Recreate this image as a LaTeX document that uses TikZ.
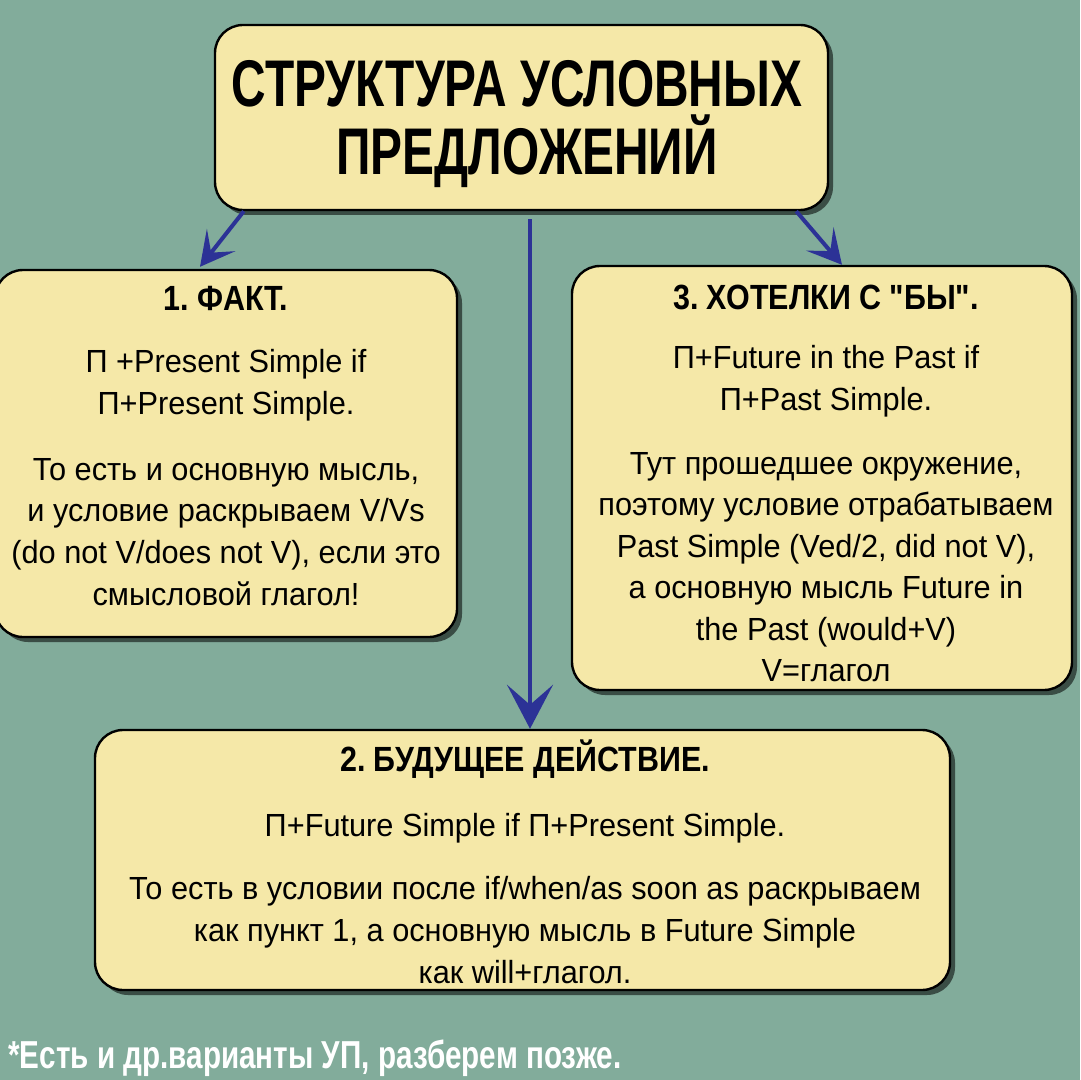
\documentclass[tikz,border=0pt]{standalone}
\usepackage{fontspec}
\setmainfont{Liberation Sans}
\newfontfamily\bodyfont[FakeStretch=0.96]{Liberation Sans}
\newfontfamily\headfont[FakeStretch=0.87]{Liberation Sans}
\newfontfamily\titlefont[FakeStretch=0.725]{Liberation Sans}
\newfontfamily\notefont[FakeStretch=0.76]{Liberation Sans}
\usetikzlibrary{arrows.meta,shadows}
\definecolor{bgc}{RGB}{130,172,155}
\definecolor{boxfill}{RGB}{245,232,168}
\definecolor{arrowblue}{RGB}{44,50,150}
\frenchspacing
\tikzset{
  box/.style={draw=black, line width=1.2pt, fill=boxfill, rounded corners=14pt,
    drop shadow={shadow xshift=2.5pt, shadow yshift=-2.5pt, fill=black, opacity=0.55},
    inner sep=0pt},
  txt/.style={font=\bodyfont\fontsize{16}{19}\selectfont, inner sep=0pt, anchor=base},
  head/.style={font=\headfont\bfseries\fontsize{17.5}{21}\selectfont, inner sep=0pt, anchor=base},
  ttl/.style={font=\titlefont\bfseries\fontsize{33}{38}\selectfont, inner sep=0pt, anchor=base},
  note/.style={font=\notefont\bfseries\fontsize{19.5}{23}\selectfont, text=white, inner sep=0pt, anchor=base west},
  arr/.style={draw=arrowblue, line width=2pt, -{Stealth[length=22pt, width=23pt, inset=10pt]}},
  arrs/.style={draw=arrowblue, line width=2pt, -{Stealth[length=17pt, width=18pt, inset=8pt]}}
}
\begin{document}
\begin{tikzpicture}[x=0.5pt,y=-0.5pt]
\fill[bgc] (0,0) rectangle (1080,1080);
\useasboundingbox (0,0) rectangle (1080,1080);

% boxes
\node[box, minimum width=306.5pt, minimum height=92.5pt] (title) at (521.5,117.5) {};
\node[box, minimum width=231pt, minimum height=183.5pt] (fact) at (226,453.5) {};
\node[box, minimum width=250pt, minimum height=212pt] (wish) at (822,478) {};
\node[box, minimum width=427.5pt, minimum height=130pt] (future) at (522.5,860) {};

% title
\node[ttl] (t1) at (517,107) {СТРУКТУРА УСЛОВНЫХ};
\node[ttl] (t2) at (527,175) {ПРЕДЛОЖЕНИЙ};

% box 1
\node[head] (f0) at (226,311) {1. ФАКТ.};
\node[txt] (f1) at (226,372) {П +Present Simple if};
\node[txt] (f2) at (226,414) {П+Present Simple.};
\node[txt] (f3) at (226,480) {То есть и основную мысль,};
\node[txt] (f4) at (226,521) {и условие раскрываем V/Vs};
\node[txt] (f5) at (226,563) {(do not V/does not V), если это};
\node[txt] (f6) at (226,605) {смысловой глагол!};

% box 3
\node[head] (w0) at (826,310) {3. ХОТЕЛКИ С "БЫ".};
\node[txt] (w1) at (826,368) {П+Future in the Past if};
\node[txt] (w2) at (826,410) {П+Past Simple.};
\node[txt] (w3) at (826,474) {Тут прошедшее окружение,};
\node[txt] (w4) at (826,515) {поэтому условие отрабатываем};
\node[txt] (w5) at (826,557) {Past Simple (Ved/2, did not V),};
\node[txt] (w6) at (826,598) {а основную мысль Future in};
\node[txt] (w7) at (826,640) {the Past (would+V)};
\node[txt] (w8) at (826,681) {V=глагол};

% box 2
\node[head] (u0) at (525,771) {2. БУДУЩЕЕ ДЕЙСТВИЕ.};
\node[txt] (u1) at (525,836) {П+Future Simple if П+Present Simple.};
\node[txt] (u2) at (525,899) {То есть в условии после if/when/as soon as раскрываем};
\node[txt] (u3) at (525,941) {как пункт 1, а основную мысль в Future Simple};
\node[txt] (u4) at (525,983) {как will+глагол.};

% footnote
\node[note] (fn) at (8,1068) {*Есть и др.варианты УП, разберем позже.};

% arrows
\draw[arrs] ([xshift=15pt]title.south west) -- ([xshift=-13pt,yshift=1pt]fact.north);
\draw[arrs] ([xshift=-16.5pt]title.south east) -- ([xshift=10pt]wish.north);
\draw[arr] ([xshift=4.25pt,yshift=-4pt]title.south) -- ([xshift=3.75pt]future.north);
\end{tikzpicture}
\end{document}
